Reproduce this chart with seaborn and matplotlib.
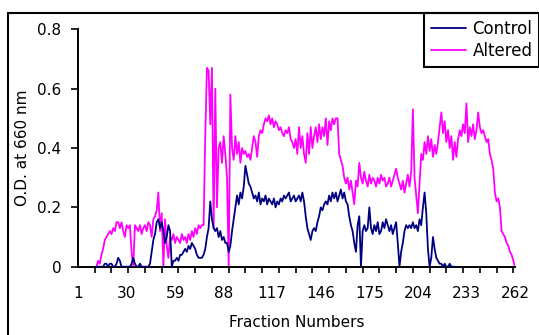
import matplotlib
matplotlib.use('Agg')
import matplotlib.pyplot as plt
import seaborn as sns
import numpy as np
import pandas as pd
from matplotlib.patches import Rectangle

# ---------------- data ----------------
fractions = list(range(1, 263))

altered_values = [
    0.00, 0.02, 0.01, 0.04, 0.06, 0.09, 0.10, 0.11, 0.12, 0.11,
    0.13, 0.12, 0.15, 0.15, 0.13, 0.15, 0.12, 0.10, 0.14, 0.13,
    0.14, 0.05, 0.00, 0.14, 0.13, 0.12, 0.14, 0.11, 0.13, 0.14,
    0.12, 0.15, 0.14, 0.10, 0.16, 0.17, 0.19, 0.25, 0.12, 0.18,
    0.00, 0.16, 0.07, 0.03, 0.10, 0.09, 0.11, 0.08, 0.10, 0.09,
    0.08, 0.11, 0.09, 0.10, 0.08, 0.11, 0.09, 0.12, 0.10, 0.13,
    0.11, 0.14, 0.13, 0.14, 0.14, 0.44, 0.67, 0.66, 0.48, 0.67,
    0.13, 0.60, 0.20, 0.40, 0.42, 0.35, 0.44, 0.38, 0.30, 0.00,
    0.58, 0.40, 0.36, 0.44, 0.38, 0.42, 0.35, 0.40, 0.38, 0.39,
    0.37, 0.38, 0.36, 0.40, 0.44, 0.42, 0.37, 0.44, 0.46, 0.45,
    0.48, 0.50, 0.49, 0.51, 0.48, 0.50, 0.47, 0.49, 0.48, 0.46,
    0.47, 0.45, 0.44, 0.46, 0.45, 0.47, 0.43, 0.42, 0.40, 0.43,
    0.38, 0.47, 0.40, 0.44, 0.38, 0.35, 0.45, 0.38, 0.47, 0.40,
    0.44, 0.47, 0.42, 0.48, 0.43, 0.47, 0.44, 0.50, 0.41, 0.49,
    0.46, 0.50, 0.48, 0.50, 0.50, 0.38, 0.36, 0.34, 0.30, 0.28,
    0.30, 0.26, 0.29, 0.25, 0.21, 0.29, 0.27, 0.35, 0.30, 0.28,
    0.32, 0.29, 0.27, 0.31, 0.28, 0.30, 0.29, 0.27, 0.30, 0.28,
    0.31, 0.29, 0.30, 0.27, 0.28, 0.30, 0.27, 0.29, 0.31, 0.33,
    0.30, 0.28, 0.26, 0.29, 0.25, 0.28, 0.31, 0.27, 0.32, 0.53,
    0.30, 0.24, 0.18, 0.28, 0.38, 0.36, 0.42, 0.38, 0.44, 0.39,
    0.43, 0.37, 0.41, 0.38, 0.42, 0.47, 0.52, 0.45, 0.49, 0.42,
    0.46, 0.40, 0.44, 0.36, 0.42, 0.37, 0.43, 0.46, 0.44, 0.48,
    0.45, 0.55, 0.42, 0.47, 0.44, 0.48, 0.43, 0.46, 0.52, 0.47,
    0.45, 0.46, 0.44, 0.42, 0.43, 0.38, 0.36, 0.33, 0.25, 0.22,
    0.23, 0.20, 0.12, 0.11, 0.10, 0.08, 0.07, 0.05, 0.04, 0.02,
    0.00,
]
altered = [np.nan] * 11 + altered_values

control_values = [
    0.00, 0.00, 0.00, 0.00, 0.00, 0.01, 0.01, 0.00, 0.01, 0.01,
    0.00, 0.00, 0.01, 0.03, 0.02, 0.00, 0.00, 0.00, 0.00, 0.00,
    0.00, 0.01, 0.03, 0.01, 0.00, 0.00, 0.01, 0.00, 0.00, 0.00,
    0.00, 0.00, 0.01, 0.05, 0.09, 0.11, 0.15, 0.16, 0.13, 0.15,
    0.12, 0.08, 0.10, 0.14, 0.12, 0.00, 0.02, 0.02, 0.03, 0.02,
    0.04, 0.04, 0.05, 0.06, 0.05, 0.07, 0.06, 0.08, 0.07, 0.06,
    0.04, 0.03, 0.03, 0.03, 0.04, 0.06, 0.10, 0.13, 0.22, 0.16,
    0.13, 0.12, 0.13, 0.10, 0.12, 0.09, 0.10, 0.08, 0.08, 0.05,
    0.07, 0.12, 0.16, 0.20, 0.24, 0.21, 0.25, 0.23, 0.27, 0.34,
    0.31, 0.28, 0.27, 0.25, 0.23, 0.24, 0.22, 0.25, 0.21, 0.23,
    0.22, 0.24, 0.21, 0.23, 0.22, 0.21, 0.23, 0.20, 0.22, 0.21,
    0.23, 0.22, 0.24, 0.23, 0.24, 0.25, 0.22, 0.23, 0.24, 0.22,
    0.23, 0.24, 0.22, 0.25, 0.22, 0.17, 0.13, 0.11, 0.09, 0.12,
    0.13, 0.12, 0.15, 0.17, 0.20, 0.19, 0.21, 0.22, 0.21, 0.24,
    0.22, 0.25, 0.23, 0.25, 0.22, 0.24, 0.26, 0.23, 0.25, 0.22,
    0.21, 0.17, 0.14, 0.12, 0.08, 0.05, 0.14, 0.17, 0.00, 0.12,
    0.14, 0.12, 0.13, 0.20, 0.13, 0.11, 0.14, 0.12, 0.15, 0.11,
    0.12, 0.15, 0.13, 0.16, 0.14, 0.12, 0.14, 0.11, 0.13, 0.15,
    0.08, 0.00, 0.05, 0.08, 0.12, 0.14, 0.13, 0.14, 0.13, 0.15,
    0.13, 0.14, 0.12, 0.16, 0.14, 0.20, 0.25, 0.18, 0.06, 0.00,
    0.03, 0.10, 0.06, 0.03, 0.02, 0.01, 0.01, 0.00, 0.01, 0.00,
    0.00, 0.01, 0.00, 0.00, 0.00,
]
control = [np.nan] * 11 + control_values
control = control + [np.nan] * (len(fractions) - len(control))

x_tick_values = [1, 30, 59, 88, 117, 146, 175, 204, 233, 262]
x_tick_labels = [str(v) for v in x_tick_values]
x_minor_ticks = list(range(1, 262, 10))
y_tick_values = [0, 0.2, 0.4, 0.6, 0.8]
y_tick_labels = ['0', '0.2', '0.4', '0.6', '0.8']

# ---------------- style ----------------
sns.set_theme(style='white')
plt.rcParams['font.family'] = ['DejaVu Sans']
for k in ['text.color', 'axes.labelcolor', 'xtick.color', 'ytick.color']:
    plt.rcParams[k] = 'black'

W, H = 539, 335
fig = plt.figure(figsize=(W / 100, H / 100), dpi=100)
ax = fig.add_axes([78 / W, 1 - 266.7 / H, 437 / W, 237.4 / H])

df = pd.DataFrame({'Fraction': fractions, 'Control': control, 'Altered': altered})
long = df.melt(id_vars='Fraction', var_name='Series', value_name='OD').dropna()

sns.lineplot(data=long[long.Series == 'Altered'], x='Fraction', y='OD',
             color='#FF00FF', lw=1.3, label='Altered', ax=ax, zorder=2,
             estimator=None)
sns.lineplot(data=long[long.Series == 'Control'], x='Fraction', y='OD',
             color='#000080', lw=1.3, label='Control', ax=ax, zorder=3,
             estimator=None)

ax.set_xlim(1, 262)
ax.set_ylim(0, 0.8)
ax.set_xticks(x_tick_values, x_tick_labels)
ax.set_xticks(x_minor_ticks, minor=True)
ax.set_yticks(y_tick_values, y_tick_labels)
ax.tick_params(axis='x', which='major', length=0, pad=14, labelsize=11, bottom=True)
ax.tick_params(axis='x', which='minor', length=4, width=1.2, direction='out', bottom=True)
ax.tick_params(axis='y', which='major', length=5, width=1.2, direction='out', pad=7,
               labelsize=11, left=True)

for s in ['top', 'right']:
    ax.spines[s].set_visible(False)
for s in ['left', 'bottom']:
    ax.spines[s].set_color('black')
    ax.spines[s].set_linewidth(1.4)

ax.set_xlabel('Fraction Numbers', fontsize=11, va='center')
ax.xaxis.set_label_coords(0.501, -0.237)
ax.set_ylabel('O.D. at 660 nm', fontsize=11, va='center')
ax.yaxis.set_label_coords(-0.128, 0.5)

# legend
handles, labels = ax.get_legend_handles_labels()
order = [labels.index('Control'), labels.index('Altered')]
leg = ax.legend([handles[i] for i in order], [labels[i] for i in order],
                loc='upper left', bbox_to_anchor=(424 / W, 1 - 13 / H),
                bbox_transform=fig.transFigure, frameon=True, fancybox=False,
                edgecolor='black', framealpha=1, borderpad=0.4,
                handlelength=2.15, handletextpad=0.36, labelspacing=0.28,
                fontsize=12, borderaxespad=0)
leg.get_frame().set_linewidth(1.5)

# outer chart border
fig.patches.append(Rectangle((8 / W, -0.2), 2, 1.2 - 13 / H, transform=fig.transFigure,
                             fill=False, ec='black', lw=1.5))

fig.savefig('out.png', dpi=100)
